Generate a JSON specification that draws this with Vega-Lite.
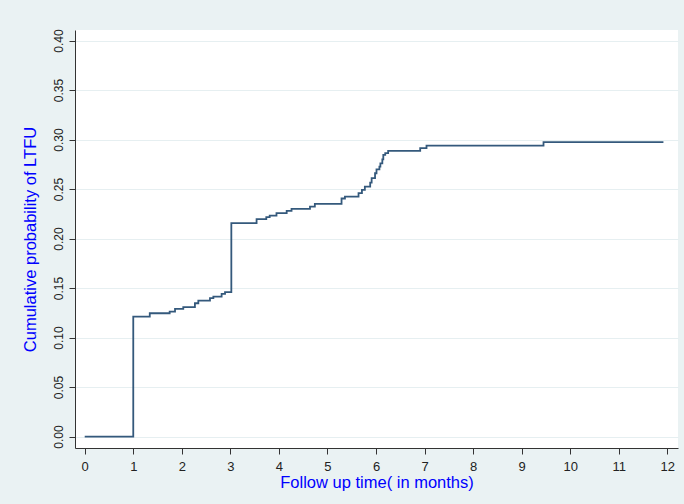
{
  "$schema": "https://vega.github.io/schema/vega-lite/v6.json",
  "width": 603,
  "height": 418,
  "autosize": "none",
  "padding": {"left": 75, "top": 30, "right": 6, "bottom": 56},
  "background": "#eaf2f3",
  "config": {
    "view": {"stroke": null, "fill": "#ffffff"},
    "font": "Liberation Sans"
  },
  "data": {
    "values": [
      {"t": 0, "p": 0},
      {"t": 1.0, "p": 0.1212},
      {"t": 1.34, "p": 0.1246},
      {"t": 1.75, "p": 0.1263},
      {"t": 1.86, "p": 0.129},
      {"t": 2.03, "p": 0.1307},
      {"t": 2.27, "p": 0.1347},
      {"t": 2.34, "p": 0.1374},
      {"t": 2.58, "p": 0.1398},
      {"t": 2.65, "p": 0.1414},
      {"t": 2.82, "p": 0.1441},
      {"t": 2.89, "p": 0.1459},
      {"t": 3.02, "p": 0.2156},
      {"t": 3.54, "p": 0.2196},
      {"t": 3.74, "p": 0.2216},
      {"t": 3.81, "p": 0.2232},
      {"t": 3.95, "p": 0.2257},
      {"t": 4.16, "p": 0.228},
      {"t": 4.26, "p": 0.230},
      {"t": 4.64, "p": 0.2323},
      {"t": 4.74, "p": 0.235},
      {"t": 5.29, "p": 0.2405},
      {"t": 5.36, "p": 0.2424},
      {"t": 5.64, "p": 0.2459},
      {"t": 5.71, "p": 0.2492},
      {"t": 5.77, "p": 0.2525},
      {"t": 5.88, "p": 0.2566},
      {"t": 5.91, "p": 0.261},
      {"t": 5.98, "p": 0.266},
      {"t": 6.01, "p": 0.270},
      {"t": 6.07, "p": 0.2727},
      {"t": 6.09, "p": 0.276},
      {"t": 6.13, "p": 0.280},
      {"t": 6.15, "p": 0.2845},
      {"t": 6.19, "p": 0.2863},
      {"t": 6.25, "p": 0.2886},
      {"t": 6.91, "p": 0.2913},
      {"t": 7.04, "p": 0.294},
      {"t": 9.45, "p": 0.2974},
      {"t": 11.92, "p": 0.2974}
    ]
  },
  "mark": {"type": "line", "interpolate": "step-after", "color": "#34597c", "strokeWidth": 1.8},
  "encoding": {
    "x": {
      "field": "t",
      "type": "quantitative",
      "scale": {"domain": [-0.2, 12.22], "nice": false, "zero": false},
      "axis": {
        "title": "Follow up time( in months)",
        "values": [0, 1, 2, 3, 4, 5, 6, 7, 8, 9, 10, 11, 12],
        "format": "d",
        "grid": false,
        "domainColor": "#333333",
        "tickColor": "#333333",
        "tickSize": 6,
        "labelFontSize": 13,
        "labelColor": "#222222",
        "labelPadding": 6,
        "titleFontSize": 16.5,
        "titleFontWeight": "normal",
        "titleColor": "#0000ff",
        "titlePadding": 1
      }
    },
    "y": {
      "field": "p",
      "type": "quantitative",
      "scale": {"domain": [-0.0115, 0.4107], "nice": false, "zero": false},
      "axis": {
        "title": "Cumulative probability of LTFU",
        "values": [0, 0.05, 0.1, 0.15, 0.2, 0.25, 0.3, 0.35, 0.4],
        "format": ".2f",
        "grid": true,
        "gridColor": "#e6eff1",
        "gridWidth": 1,
        "domainColor": "#333333",
        "tickColor": "#333333",
        "tickSize": 6,
        "labelAngle": 270,
        "labelAlign": "center",
        "labelBaseline": "bottom",
        "labelFontSize": 12,
        "labelColor": "#222222",
        "labelPadding": 4,
        "titleFontSize": 16.5,
        "titleFontWeight": "normal",
        "titleColor": "#0000ff",
        "titlePadding": 14
      }
    }
  }
}
